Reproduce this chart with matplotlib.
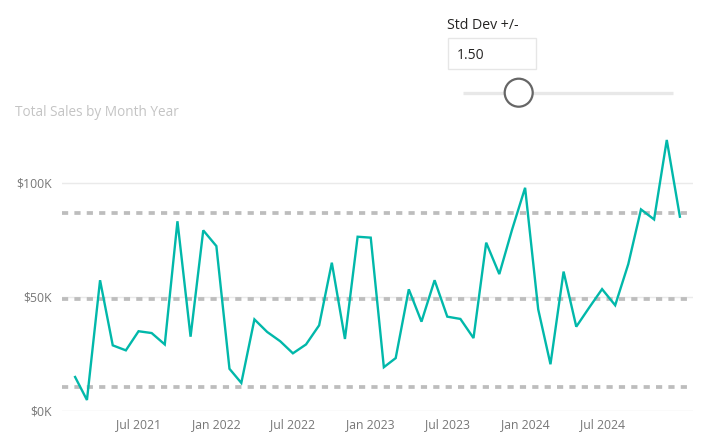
import matplotlib
matplotlib.use("Agg")
import matplotlib.pyplot as plt
import matplotlib.dates as mdates
from matplotlib.patches import Rectangle, Circle
import pandas as pd

plt.rcParams['font.family'] = ['Open Sans', 'DejaVu Sans']

# ---- data (thousands of $) ----
start_month = '2021-02-01'
sales_k = [14.8, 4.7, 57.3, 28.7, 26.5, 34.9, 34.1, 29.1, 83.2, 32.5, 79.2, 72.3,
           18.4, 12.2, 40.1, 34.6, 30.5, 25.2, 29.1, 37.5, 65.0, 31.5, 76.4, 76.0,
           19.1, 23.1, 53.3, 39.1, 57.3, 41.3, 40.3, 31.9, 73.8, 60.0, 79.4, 97.9,
           44.5, 20.4, 61.1, 36.9, 45.4, 53.4, 46.3, 64.4, 88.4, 84.0, 118.9, 85.2]
band_k = [10.5, 48.9, 87.0]          # lower, mean, upper (mean +/- 1.5 sd)
ytick_vals = [0, 50, 100]
ytick_labels = ['$0K', '$50K', '$100K']
xtick_dates = ['2021-07-01', '2022-01-01', '2022-07-01', '2023-01-01',
               '2023-07-01', '2024-01-01', '2024-07-01']
xtick_labels = ['Jul 2021', 'Jan 2022', 'Jul 2022', 'Jan 2023',
                'Jul 2023', 'Jan 2024', 'Jul 2024']
title = 'Total Sales by Month Year'
slicer_title = 'Std Dev +/-'
slicer_value = '1.50'

dates = pd.date_range(start_month, periods=len(sales_k), freq='MS')

W, H = 708, 443
fig = plt.figure(figsize=(W / 100, H / 100), dpi=100)
fig.patch.set_facecolor('white')

x0, x1 = 62, 693
y0, y1 = 410.7, 130
ax = fig.add_axes([x0 / W, (H - y0) / H, (x1 - x0) / W, (y0 - y1) / H])
ax.set_facecolor('white')
ax.set_ylim(0, (y0 - y1) / 2.277)
ax.set_xlim(pd.Timestamp('2021-01-01'), pd.Timestamp('2025-02-01'))

for v in ytick_vals:
    ax.axhline(v, color='#EAEAEA', lw=1.0, zorder=1)
for v in band_k:
    ax.axhline(v, color='#BDBDBD', lw=2.7, ls=(0, (1.65, 1.65)), zorder=2,
               dash_capstyle='butt')

ax.plot(dates, sales_k, color='#01B8AA', lw=1.7, zorder=3,
        solid_joinstyle='miter')

ax.set_yticks(ytick_vals)
ax.set_yticklabels(ytick_labels)
ax.set_xticks([pd.Timestamp(d) for d in xtick_dates])
ax.set_xticklabels(xtick_labels)
ax.tick_params(axis='both', length=0, labelsize=8.8, labelcolor='#777777')
ax.tick_params(axis='y', pad=7)
ax.tick_params(axis='x', pad=5)
for s in ax.spines.values():
    s.set_visible(False)

# ---- UI overlay in pixel coordinates ----
ui = fig.add_axes([0, 0, 1, 1])
ui.set_xlim(0, W)
ui.set_ylim(H, 0)
ui.axis('off')
ui.patch.set_alpha(0)

ui.text(15, 115.7, title, fontsize=9.8, color='#C4C4C4', va='baseline', ha='left')
ui.text(447, 29.3, slicer_title, fontsize=10.2, color='#252423', va='baseline', ha='left')
ui.add_patch(Rectangle((448, 38.3), 88, 30.7, facecolor='white',
                       edgecolor='#E6E6E6', lw=1.0, zorder=1))
ui.text(456.5, 59.3, slicer_value, fontsize=10.0, color='#252423', va='baseline', ha='left')
ui.plot([462.7, 672.7], [92.7, 92.7], color='#E8E8E8', lw=2.4, solid_capstyle='butt',
        zorder=2)
ui.add_patch(Circle((518.7, 92.7), 14, facecolor='white', edgecolor='#666666', lw=1.6,
                    zorder=3))

fig.savefig('out.png', dpi=100, facecolor='white')
